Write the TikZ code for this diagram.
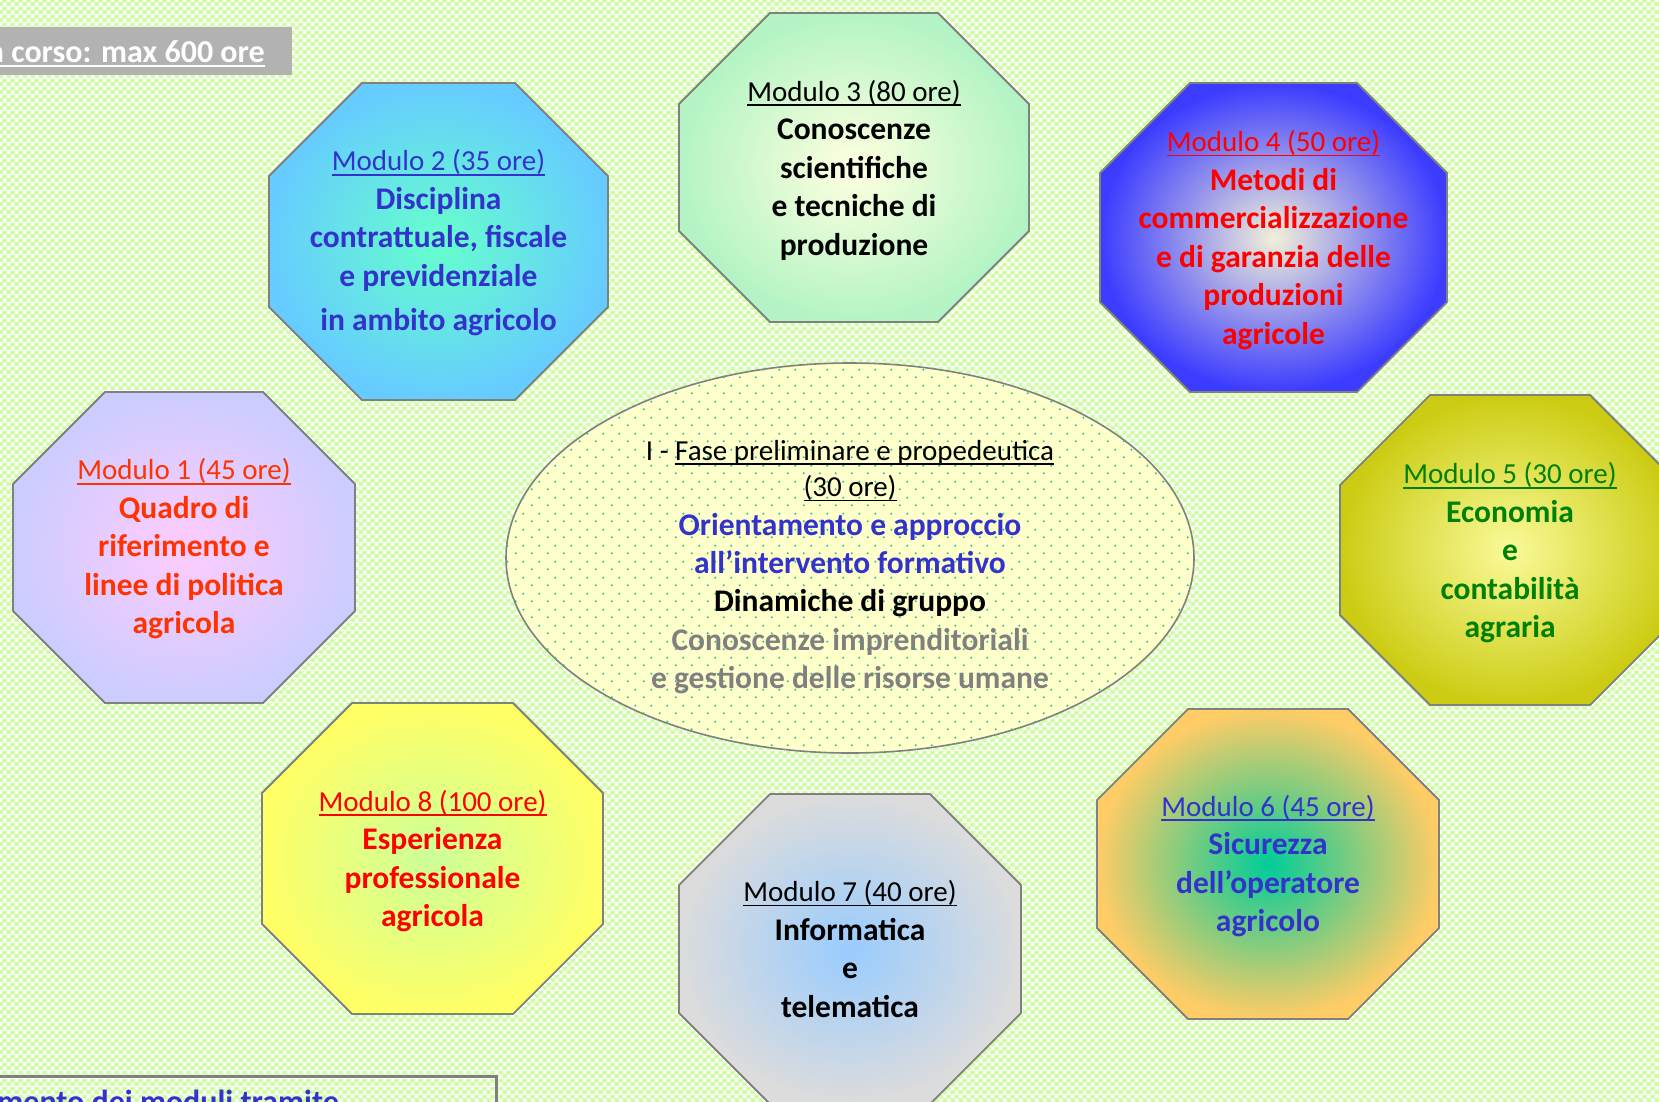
\documentclass[tikz,border=0pt]{standalone}
\usepackage{fontspec}
\setmainfont{Carlito}
\usetikzlibrary{patterns,patterns.meta,shapes.geometric}

\definecolor{bggreen}{HTML}{CCFF99}
\definecolor{bgwhite}{HTML}{F2F9EA}
\definecolor{octgray}{HTML}{808080}
\definecolor{labgray}{HTML}{B2B2B2}
\definecolor{tblue}{HTML}{3333CC}
\definecolor{tred}{HTML}{FF0000}
\definecolor{tor}{HTML}{FF3300}
\definecolor{tgreen}{HTML}{008000}
\definecolor{tgray}{HTML}{808080}
\definecolor{ellfill}{HTML}{FFFFCC}
\definecolor{dotcol}{HTML}{22CC8C}
\definecolor{oAin}{HTML}{FFCCFF}\definecolor{oAout}{HTML}{CCCCFF}
\definecolor{oBin}{HTML}{66FFCC}\definecolor{oBout}{HTML}{66CCFF}
\definecolor{oCin}{HTML}{FFFFE0}\definecolor{oCout}{HTML}{B4F4C4}
\definecolor{oDin}{HTML}{F2F0D8}\definecolor{oDout}{HTML}{3C3CFF}
\definecolor{oEin}{HTML}{FAFA9A}\definecolor{oEout}{HTML}{CCCC14}
\definecolor{oFin}{HTML}{00CC99}\definecolor{oFout}{HTML}{FFCC66}
\definecolor{oGin}{HTML}{99CCFF}\definecolor{oGout}{HTML}{DCDCDC}
\definecolor{oHin}{HTML}{CCFF99}\definecolor{oHout}{HTML}{FFFF66}

\tikzdeclarepattern{
  name=bgcheck, type=colored,
  bounding box={(0pt,0pt) and (8pt,8pt)},
  tile size={(8pt,8pt)},
  code={
    \fill[bgwhite] (0pt,0pt) rectangle (8pt,8pt);
    \fill[bggreen] (0pt,0pt) rectangle (4pt,4pt);
    \fill[bggreen] (4pt,4pt) rectangle (8pt,8pt);
    \fill[white] (6pt,2pt) circle (1.5pt);
    \fill[white] (2pt,6pt) circle (1.5pt);
  }
}
\tikzdeclarepattern{
  name=elldots, type=uncolored,
  bounding box={(0pt,0pt) and (16pt,16pt)},
  tile size={(16pt,16pt)},
  code={
    \fill (4pt,4pt) circle (1.2pt);
    \fill (12pt,12pt) circle (1.2pt);
  }
}

\newsavebox\ulbox
\newcommand\myul[2][4.6pt]{\sbox\ulbox{#2}\rlap{\rule[-#1]{\wd\ulbox}{1.7pt}}\usebox\ulbox}
\newcommand\modtitle[1]{{\mdseries\fontsize{29}{38.5}\selectfont\myul{#1}}}
% octagon: cx, cy, half width, half height, cut, style
\newcommand\octo[6]{\draw[octline,#6] (#1-#3+#5,#2-#4) -- (#1+#3-#5,#2-#4) -- (#1+#3,#2-#4+#5) -- (#1+#3,#2+#4-#5) -- (#1+#3-#5,#2+#4) -- (#1-#3+#5,#2+#4) -- (#1-#3,#2+#4-#5) -- (#1-#3,#2-#4+#5) -- cycle;}

\tikzset{
  octline/.style={draw=octgray, line width=1.8pt},
  octtext/.style={align=center, inner sep=0pt, font=\fontsize{31.5}{38.5}\selectfont\bfseries},
}

\begin{document}
\begin{tikzpicture}[x=1pt,y=-1pt]
\useasboundingbox (0,0) rectangle (1659,1101);
\clip (0,0) rectangle (1659,1101);
\fill[pattern=bgcheck] (-2,-2) rectangle (1661,1103);

% octagons
\octo{184}{547.5}{171}{155.5}{92}{inner color=oAin, outer color=oAout}
\octo{438.5}{241.5}{169.5}{158.5}{93}{inner color=oBin, outer color=oBout}
\octo{854}{167.5}{175}{154.5}{91}{inner color=oCin, outer color=oCout}
\octo{1273.5}{237.5}{173.5}{154.5}{90}{inner color=oDin, outer color=oDout}
\octo{1510}{550}{170}{155}{90}{inner color=oEin, outer color=oEout}
\octo{1268}{864}{171}{155}{91}{inner color=oFin, outer color=oFout}
\octo{850}{949}{171}{155}{91}{inner color=oGin, outer color=oGout}
\octo{432.5}{858.5}{170.5}{155.5}{90}{inner color=oHin, outer color=oHout}

% central ellipse
\node[ellipse, draw=octgray, line width=1.6pt, fill=ellfill,
      postaction={pattern={elldots}, pattern color=dotcol},
      minimum width=688pt, minimum height=390pt, inner sep=0pt] (fase) at (850,558) {};

% texts
\node[octtext, text=tor] (m1) at (184,549) {\modtitle{Modulo 1 (45 ore)}\\ Quadro di\\ riferimento e\\ linee di politica\\ agricola};
\node[octtext, text=tblue] (m2) at (438.5,243) {\modtitle{Modulo 2 (35 ore)}\\ Disciplina\\ contrattuale, fiscale\\ e previdenziale\\[6pt] in ambito agricolo};
\node[octtext, text=black] (m3) at (854,170) {\modtitle{Modulo 3 (80 ore)}\\ Conoscenze\\ scientifiche\\ e tecniche di\\ produzione};
\node[octtext, text=tred] (m4) at (1273.5,240) {\modtitle{Modulo 4 (50 ore)}\\ Metodi di\\ commercializzazione\\ e di garanzia delle\\ produzioni\\ agricole};
\node[octtext, text=tgreen] (m5) at (1510,553) {\modtitle{Modulo 5 (30 ore)}\\ Economia\\ e\\ contabilità\\ agraria};
\node[octtext, text=tblue] (m6) at (1268,866) {\modtitle{Modulo 6 (45 ore)}\\ Sicurezza\\ dell’operatore\\ agricolo};
\node[octtext, text=black] (m7) at (850,949) {\modtitle{Modulo 7 (40 ore)}\\ Informatica\\ e\\ telematica};
\node[octtext, text=tred] (m8) at (432.5,861) {\modtitle{Modulo 8 (100 ore)}\\ Esperienza\\ professionale\\ agricola};

\node[align=center, inner sep=0pt, font=\fontsize{31.5}{38.3}\selectfont] (fasetext) at (850,567)
  {{\fontsize{29}{38.3}\selectfont I - \myul{Fase preliminare e propedeutica}}\\[-2pt]
   {\fontsize{29}{38.3}\selectfont\myul{(30 ore)}}\\
   \textcolor{tblue}{\bfseries Orientamento e approccio}\\
   \textcolor{tblue}{\bfseries all’intervento formativo}\\
   \textcolor{black}{\bfseries Dinamiche di gruppo}\\
   \textcolor{tgray}{\bfseries Conoscenze imprenditoriali}\\
   \textcolor{tgray}{\bfseries e gestione delle risorse umane}};

% top-left label
\node[fill=labgray, anchor=north west, minimum width=297pt, minimum height=48pt, inner sep=0pt] (lab) at (-5,27) {};
\node[anchor=base east, text=white, inner sep=0pt, font=\fontsize{32}{38}\selectfont\bfseries] (labtext) at (265,62) {\myul[4.8pt]{n corso: max 600 ore}};

% bottom-left box
\node[draw=octgray, line width=2.6pt, anchor=north west, minimum width=500pt, minimum height=80pt, inner sep=0pt] (box) at (-5,1075) {};
\node[anchor=base east, text=tblue, inner sep=0pt, font=\fontsize{32}{38}\selectfont\bfseries] (boxtext) at (339,1112) {mento dei moduli tramite};
\end{tikzpicture}
\end{document}
